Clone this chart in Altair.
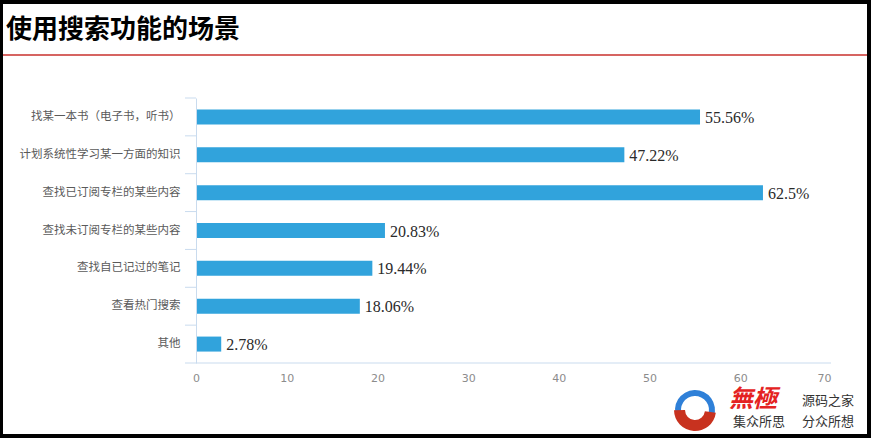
import altair as alt
import pandas as pd

categories = [
    "找某一本书（电子书，听书）",
    "计划系统性学习某一方面的知识",
    "查找已订阅专栏的某些内容",
    "查找未订阅专栏的某些内容",
    "查找自已记过的笔记",
    "查看热门搜索",
    "其他",
]
values = [55.56, 47.22, 62.5, 20.83, 19.44, 18.06, 2.78]
title_text = "使用搜索功能的场景"
x_ticks = [0, 10, 20, 30, 40, 50, 60, 70]

df = pd.DataFrame({
    "cat": categories,
    "val": values,
    "label": [f"{v}%" for v in values],
})

W, H = 635, 265
AXIS_COLOR = "#c9dbee"
BAR_COLOR = "#31a3dc"
CJK = "Noto Sans CJK SC"

y_enc = alt.Y("cat:N", sort=categories,
              scale=alt.Scale(paddingInner=0, paddingOuter=0),
              axis=alt.Axis(title=None, domain=True, domainColor=AXIS_COLOR,
                            domainWidth=1, ticks=False, labelPadding=16,
                            labelFont=CJK, labelFontSize=11.5,
                            labelColor="#5a5a5a", labelLimit=400, zindex=2))
x_enc = alt.X("val:Q", scale=alt.Scale(domain=[0, 70], nice=False),
              axis=alt.Axis(title=None, values=x_ticks, domain=False,
                            ticks=False, grid=False, labelPadding=9,
                            labelFlush=False,
                            labelAlign=alt.ExprRef(expr="datum.value == 70 ? 'right' : 'center'"),
                            labelFont="DejaVu Sans", labelFontSize=11,
                            labelColor="#8c8c8c", zindex=2))

base = alt.Chart(df)

# white card on black frame
card = base.mark_rect(color="white").encode(
    x=alt.value(-193), x2=alt.value(671), y=alt.value(-94), y2=alt.value(336)
).transform_filter("datum.cat == '其他'")

bars = base.mark_bar(height=15, color=BAR_COLOR).encode(x=x_enc, y=y_enc)

labels = base.mark_text(align="left", baseline="middle", dx=5, dy=1,
                        font="Liberation Serif", fontSize=16, color="#2a2a2a").encode(
    x="val:Q", y=alt.Y("cat:N", sort=categories), text="label:N")

ticks = base.mark_rule(color=AXIS_COLOR, strokeWidth=1).encode(
    y=alt.Y("cat:N", sort=categories, bandPosition=0),
    x=alt.value(-11), x2=alt.value(0))

bottom = base.mark_rule(color=AXIS_COLOR, strokeWidth=1).encode(
    y=alt.value(H), x=alt.value(-11), x2=alt.value(W)
).transform_filter("datum.cat == '其他'")

title_df = pd.DataFrame({"t": [title_text]})
title = alt.Chart(title_df).mark_text(align="left", baseline="middle",
                                      font=CJK, fontSize=26, fontWeight="bold",
                                      color="#000000").encode(
    x=alt.value(-190), y=alt.value(-68), text="t:N")

redline = alt.Chart(title_df).mark_rule(color="#c9302c", strokeWidth=1.5).encode(
    y=alt.value(-43), x=alt.value(-193), x2=alt.value(671))

# watermark
brand_df = pd.DataFrame({"t": ["無極"]})
brand = alt.Chart(brand_df).mark_text(align="left", baseline="middle", font="Noto Sans CJK TC",
                                      fontSize=24, fontWeight="bold", fontStyle="italic",
                                      color="#e42222").encode(
    x=alt.value(533), y=alt.value(302), text="t:N")

wm_df = pd.DataFrame({
    "t": ["源码之家", "集众所思", "分众所想"],
    "x": [606, 537, 606],
    "y": [303, 324, 324],
})
wm_text = alt.Chart(wm_df).mark_text(align="left", baseline="middle", font=CJK,
                                     fontSize=13, color="#333333").encode(
    x=alt.X("x:Q", scale=None), y=alt.Y("y:Q", scale=None), text="t:N")

arc_df = pd.DataFrame({
    "t0": [4.3, 1.7], "t1": [8.2, 4.7],
    "r": [20, 21], "r2": [14, 10],
    "c": ["#2f80d8", "#c8321f"],
})
logo = alt.Chart(arc_df).mark_arc().encode(
    x=alt.value(499), y=alt.value(312),
    theta=alt.Theta("t0:Q", scale=None), theta2="t1:Q",
    radius=alt.Radius("r:Q", scale=None), radius2="r2:Q",
    color=alt.Color("c:N", scale=None))

chart = alt.layer(card, redline, title, ticks, bottom, bars, labels, logo, brand, wm_text).properties(
    width=W, height=H,
    autosize=alt.AutoSizeParams(type="none"),
    padding={"left": 196, "top": 98, "right": 40, "bottom": 75},
    background="#000000",
).configure_view(stroke=None)

chart.save("out.html", embed_options={"renderer": "svg", "actions": False})
